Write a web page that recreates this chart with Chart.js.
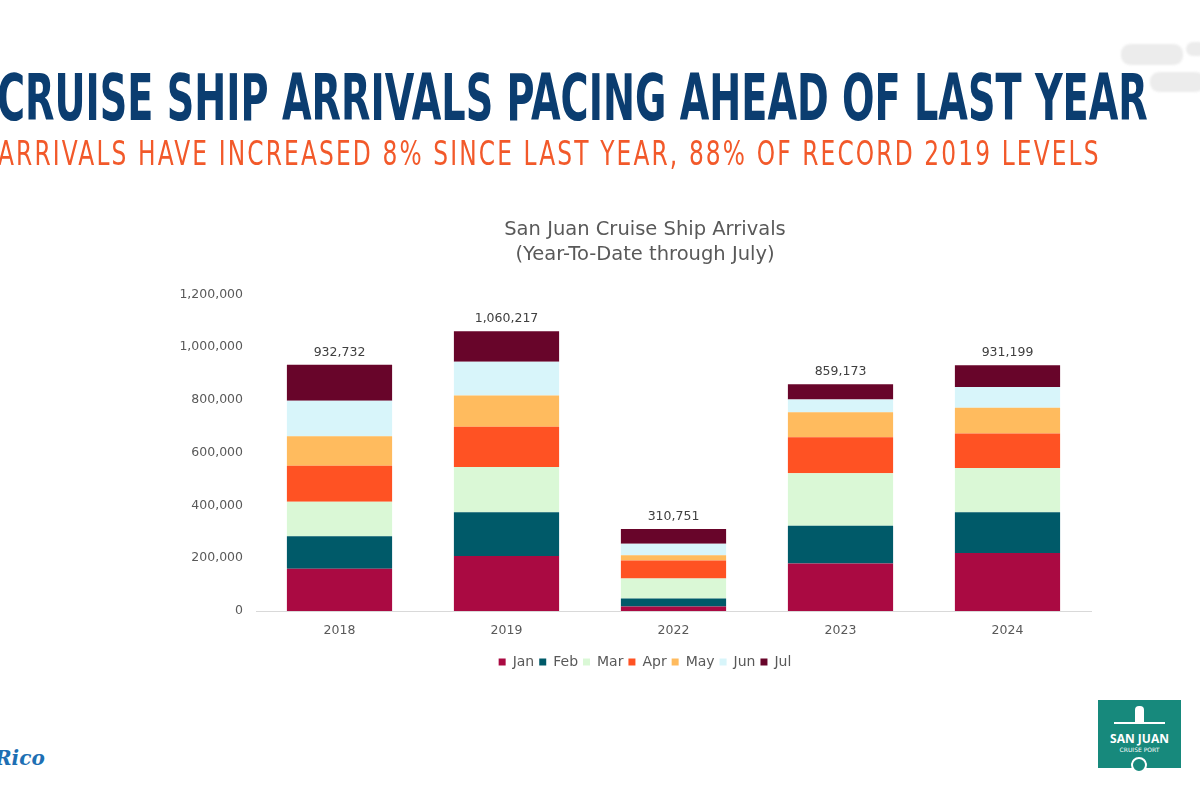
<!DOCTYPE html>
<html>
<head>
<meta charset="utf-8">
<script src="https://cdn.jsdelivr.net/npm/chart.js@4.4.1/dist/chart.umd.min.js"></script>
<style>
  body { margin: 0; width: 1200px; height: 800px; background: #fff; position: relative; overflow: hidden; font-family: "DejaVu Sans", sans-serif; }
  .fit { position: absolute; white-space: nowrap; transform-origin: 0 0; line-height: 1; }
  #headline { left: -3px; top: 66px; font-family: "DejaVu Sans", sans-serif; font-weight: bold; font-size: 64px; color: #0b3d70; }
  #subline { left: -2px; top: 137px; font-family: "DejaVu Sans", sans-serif; font-size: 33px; letter-spacing: 3px; color: #f2592a; }
  #chartBox { position: absolute; left: 160px; top: 211px; width: 970px; height: 468px; }
  .smudge { position: absolute; background: #ececec; border-radius: 9px; filter: blur(1px); }
  #rico { position: absolute; left: -5px; top: 746px; font-family: "DejaVu Serif", serif; font-style: italic; font-weight: bold; font-size: 20px; color: #1d6fb3; }
  #logo { position: absolute; left: 1098px; top: 700px; width: 83px; height: 68px; background: #17897c; color: #fff; text-align: center; }
  #logo .big { position: absolute; left: 0; right: 0; top: 30px; font-family: "Open Sans", sans-serif; font-weight: bold; font-size: 12px; }
  #logo .small { position: absolute; left: 0; right: 0; top: 46px; font-size: 6px; }
  #logo .tower { position: absolute; left: 37px; top: 6px; width: 9px; height: 18px; background: #fff; border-radius: 4px 4px 0 0; }
  #logo .roof { position: absolute; left: 16px; top: 22px; width: 51px; height: 2px; background: #fff; }
  #logo .mark { position: absolute; left: 33px; top: 57px; width: 16px; height: 16px; border-radius: 50%; background: #17897c; border: 2px solid #fff; box-sizing: border-box; }
</style>
</head>
<body>
<div id="headline" class="fit">CRUISE SHIP ARRIVALS PACING AHEAD OF LAST YEAR</div>
<div id="subline" class="fit">ARRIVALS HAVE INCREASED 8% SINCE LAST YEAR, 88% OF RECORD 2019 LEVELS</div>
<div class="smudge" style="left:1121px;top:44px;width:62px;height:21px;"></div>
<div class="smudge" style="left:1186px;top:42px;width:20px;height:14px;"></div>
<div class="smudge" style="left:1150px;top:72px;width:55px;height:20px;"></div>
<div id="chartBox"><canvas id="arrivalsChart"></canvas></div>
<div id="rico">Rico</div>
<div id="logo">
  <div class="tower"></div><div class="roof"></div>
  <div class="big">SAN JUAN</div>
  <div class="small">CRUISE PORT</div>
  <div class="mark"></div>
</div>
<script>
const years = ['2018', '2019', '2022', '2023', '2024'];
const months = ['Jan', 'Feb', 'Mar', 'Apr', 'May', 'Jun', 'Jul'];
const monthColors = ['#aa0a42', '#005a69', '#daf8d6', '#ff5223', '#ffbb5e', '#d8f5fa', '#68052a'];

// monthly arrivals per year
const jan = [160500, 208700, 16600, 180000, 220000];
const feb = [123000, 165300, 31200, 143000, 154000];
const mar = [130500, 172000, 75200, 199000, 168000];
const apr = [136000, 152000, 68000, 136000, 131000];
const may = [112000, 119000, 20000, 95000, 97000];
const jun = [135000, 127000, 44000, 48000, 79000];
const jul = [135732, 116217, 55751, 58173, 82199];
const totals = [932732, 1060217, 310751, 859173, 931199];

const yTicks = [0, 200000, 400000, 600000, 800000, 1000000, 1200000];

function fitWidth(id, target) {
    const el = document.getElementById(id);
    el.style.transform = 'none';
    const w = el.scrollWidth;
    el.style.transform = 'scaleX(' + (target / w) + ')';
}
function fitHeadings() {
    fitWidth('headline', 1151);
    fitWidth('subline', 1103);
}
fitHeadings();
document.fonts.ready.then(fitHeadings);

const monthData = [jan, feb, mar, apr, may, jun, jul];
const fontName = '"DejaVu Sans", sans-serif';

const totalLabels = {
    id: 'totalLabels',
    afterDatasetsDraw(chart) {
        const ctx = chart.ctx;
        const meta = chart.getDatasetMeta(chart.data.datasets.length - 1);
        ctx.save();
        ctx.font = '12.5px ' + fontName;
        ctx.fillStyle = '#404040';
        ctx.textAlign = 'center';
        ctx.textBaseline = 'bottom';
        totals.forEach((t, i) => {
            const x = meta.data[i].x;
            const y = chart.scales.y.getPixelForValue(t);
            ctx.fillText(t.toLocaleString('en-US'), x, y - 6);
        });
        ctx.restore();
    }
};

const ctx = document.getElementById('arrivalsChart').getContext('2d');
new Chart(ctx, {
    type: 'bar',
    data: {
        labels: years,
        datasets: months.map((m, i) => ({
            label: m,
            data: monthData[i],
            backgroundColor: monthColors[i],
            borderWidth: 0,
            barPercentage: 0.63,
            categoryPercentage: 1
        }))
    },
    options: {
        responsive: true,
        maintainAspectRatio: false,
        animation: false,
        plugins: {
            title: {
                display: true,
                text: ['San Juan Cruise Ship Arrivals', '(Year-To-Date through July)'],
                color: '#595959',
                font: { family: fontName, size: 19.5, weight: 'normal', lineHeight: 1.29 },
                padding: { top: 6, bottom: 27 }
            },
            legend: {
                position: 'bottom',
                labels: {
                    color: '#595959',
                    font: { family: fontName, size: 14 },
                    boxWidth: 7,
                    boxHeight: 7,
                    padding: 5
                }
            },
            tooltip: { enabled: false }
        },
        scales: {
            x: {
                stacked: true,
                grid: { display: false, drawTicks: false },
                border: { color: '#d9d9d9', width: 1 },
                ticks: { color: '#595959', font: { family: fontName, size: 12.5 }, padding: 12 }
            },
            y: {
                stacked: true,
                min: 0,
                max: 1200000,
                grid: { display: false, drawTicks: false },
                border: { display: false },
                afterFit(scale) { scale.width = 96; },
                afterBuildTicks(scale) { scale.ticks = yTicks.map(v => ({ value: v })); },
                ticks: {
                    color: '#595959',
                    font: { family: fontName, size: 12.5 },
                    padding: 13,
                    callback: v => v.toLocaleString('en-US')
                }
            },
            // empty right axis keeps the plot clear of the right edge so the title centres like the original
            spacer: {
                type: 'linear',
                position: 'right',
                display: true,
                grid: { display: false, drawTicks: false },
                border: { display: false },
                ticks: { display: false },
                afterFit(scale) { scale.width = 39; }
            }
        }
    },
    plugins: [totalLabels]
});
</script>
</body>
</html>
